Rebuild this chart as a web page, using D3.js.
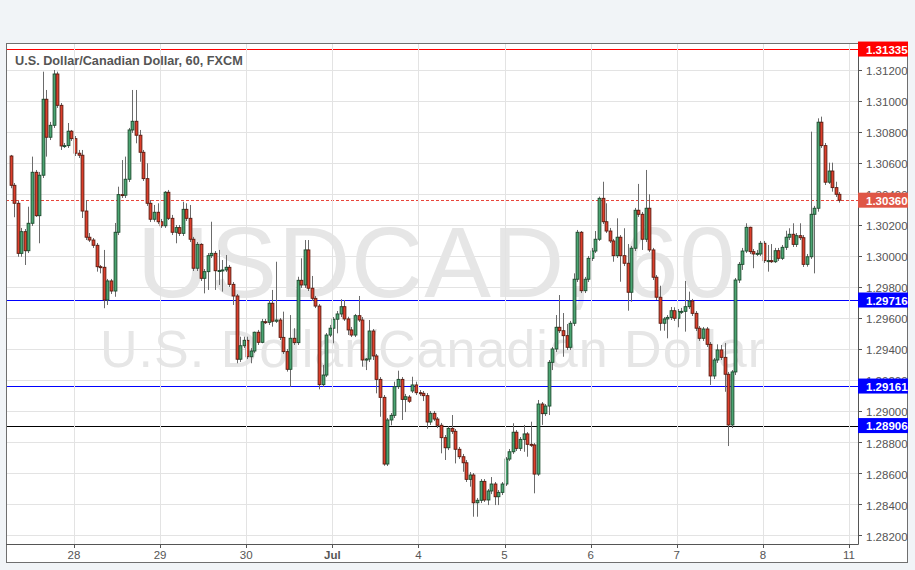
<!DOCTYPE html>
<html><head><meta charset="utf-8">
<script src="https://cdn.jsdelivr.net/npm/d3@7"></script>
<style>html,body{margin:0;padding:0;background:#f1f4f7;} svg{display:block;}</style>
</head><body>
<svg id="c" width="915" height="570"></svg>
<script>
// ---------------- DATA ----------------
const title = "U.S. Dollar/Canadian Dollar, 60, FXCM";
const watermarkSymbol = "USDCAD, 60";
const watermarkName = "U.S. Dollar/Canadian Dollar";
// day labels and the hourly-bar index at which each day starts
const dayLabels = ["28","29","30","Jul","4","5","6","7","8","11"];
const dayBars   = [17.7, 41.7, 65.7, 89.7, 113.7, 137.7, 161.7, 185.7, 209.7, 233.7];
const priceTicks = [1.282,1.284,1.286,1.288,1.290,1.292,1.294,1.296,1.298,1.300,1.302,1.304,1.306,1.308,1.310,1.312];
// horizontal levels
const levelValues = [1.31335, 1.30360, 1.29716, 1.29161, 1.28906];
const levelLine   = ["#ff0000", "#e8453a", "#0000ff", "#0000ff", "#000000"];
const levelBox    = ["#ff0000", "#df5646", "#0000ff", "#0000ff", "#0000ff"];
const levelDash   = [null, "3,2", null, null, null];

const open = [
1.30645,1.30456,1.30340,1.30017,1.30157,1.30034,1.30211,1.30540,1.30260,1.30521,
1.31011,1.30766,1.30843,1.31174,1.30972,1.30710,1.30712,1.30805,1.30757,1.30663,
1.30650,1.30290,1.30121,1.30103,1.30069,1.29931,1.29927,1.29716,1.29839,1.29774,
1.30153,1.30396,1.30392,1.30495,1.30813,1.30869,1.30779,1.30669,1.30499,1.30340,
1.30237,1.30282,1.30221,1.30195,1.30411,1.30243,1.30153,1.30183,1.30146,1.30301,
1.30243,1.30108,1.29921,1.30075,1.29856,1.29899,1.30002,1.30017,1.29905,1.29906,
1.29910,1.29927,1.29817,1.29742,1.29334,1.29421,1.29456,1.29350,1.29387,1.29508,
1.29443,1.29576,1.29572,1.29695,1.29579,1.29587,1.29475,1.29383,1.29269,1.29469,
1.29441,1.29843,1.29813,1.30039,1.29792,1.29727,1.29677,1.29170,1.29232,1.29490,
1.29534,1.29592,1.29626,1.29673,1.29594,1.29523,1.29490,1.29615,1.29587,1.29329,
1.29335,1.29516,1.29355,1.29204,1.29088,1.28658,1.28942,1.28972,1.29157,1.29204,
1.29075,1.29090,1.29129,1.29168,1.29118,1.29114,1.29099,1.28929,1.28985,1.28948,
1.28908,1.28828,1.28763,1.28888,1.28869,1.28753,1.28705,1.28666,1.28559,1.28587,
1.28408,1.28424,1.28546,1.28426,1.28484,1.28529,1.28447,1.28475,1.28529,1.28690,
1.28737,1.28863,1.28759,1.28817,1.28852,1.28785,1.28781,1.28593,1.29045,1.28983,
1.29032,1.29314,1.29400,1.29540,1.29518,1.29486,1.29411,1.29566,1.29850,1.30153,
1.29776,1.29850,1.29985,1.30032,1.30108,1.30372,1.30221,1.30161,1.30097,1.30002,
1.30121,1.30002,1.29953,1.29766,1.30050,1.30295,1.30269,1.30108,1.30308,1.30039,
1.29863,1.29734,1.29566,1.29594,1.29604,1.29647,1.29598,1.29641,1.29643,1.29673,
1.29710,1.29630,1.29534,1.29469,1.29529,1.29430,1.29226,1.29329,1.29394,1.29346,
1.29237,1.28910,1.29252,1.29845,1.29946,1.30032,1.30185,1.30028,1.30013,1.30013,
1.30082,1.29970,1.29970,1.29963,1.30034,1.29985,1.30056,1.30121,1.30140,1.30075,
1.30131,1.30118,1.29946,1.29995,1.30269,1.30308,1.30863,1.30712,1.30476,1.30548,
1.30441,1.30398];
const high = [
1.30652,1.30471,1.30355,1.30181,1.30174,1.30318,1.30641,1.30555,1.30542,1.31189,
1.31071,1.30865,1.31200,1.31189,1.30987,1.30729,1.30858,1.30813,1.30774,1.30684,
1.30684,1.30361,1.30148,1.30116,1.30084,1.29942,1.30039,1.29852,1.29852,1.30213,
1.30447,1.30619,1.30641,1.30826,1.31071,1.31071,1.30813,1.30684,1.30598,1.30361,
1.30329,1.30340,1.30239,1.30419,1.30426,1.30265,1.30200,1.30200,1.30350,1.30340,
1.30329,1.30123,1.30090,1.30082,1.29916,1.30019,1.30221,1.30032,1.30039,1.29974,
1.30006,1.29942,1.29832,1.29755,1.29479,1.29479,1.29479,1.29406,1.29512,1.29523,
1.29594,1.29594,1.29716,1.29781,1.29963,1.29600,1.29641,1.29400,1.29619,1.29534,
1.29866,1.29985,1.30103,1.30103,1.29871,1.29742,1.29690,1.29297,1.29503,1.29555,
1.29606,1.29645,1.29721,1.29716,1.29608,1.29542,1.29626,1.29742,1.29606,1.29342,
1.29587,1.29529,1.29368,1.29219,1.29103,1.28955,1.28987,1.29189,1.29260,1.29219,
1.29110,1.29103,1.29221,1.29189,1.29135,1.29129,1.29116,1.29000,1.29000,1.28961,
1.28923,1.28845,1.28903,1.28974,1.28884,1.28768,1.28723,1.28684,1.28606,1.28600,
1.28439,1.28561,1.28561,1.28497,1.28574,1.28542,1.28490,1.28542,1.28703,1.28755,
1.28921,1.28877,1.28832,1.28910,1.28864,1.28931,1.28793,1.29071,1.29058,1.29045,
1.29329,1.29413,1.29619,1.29748,1.29632,1.29561,1.29581,1.29888,1.30168,1.30161,
1.29865,1.30000,1.30052,1.30161,1.30383,1.30479,1.30340,1.30181,1.30110,1.30243,
1.30135,1.30179,1.30077,1.30065,1.30310,1.30465,1.30284,1.30555,1.30398,1.30052,
1.29877,1.29808,1.29606,1.29619,1.29671,1.29669,1.29658,1.29665,1.29839,1.29770,
1.29723,1.29645,1.29548,1.29542,1.29542,1.29445,1.29342,1.29430,1.29426,1.29439,
1.29252,1.29264,1.29858,1.29961,1.30052,1.30211,1.30189,1.30045,1.30039,1.30097,
1.30097,1.30071,1.30077,1.30052,1.30052,1.30071,1.30163,1.30179,1.30211,1.30148,
1.30211,1.30135,1.30013,1.30802,1.30323,1.30888,1.30899,1.30729,1.30602,1.30602,
1.30479,1.30413];
const low = [
1.30437,1.30250,1.29995,1.29995,1.29942,1.30019,1.30194,1.30252,1.30082,1.30503,
1.30641,1.30748,1.30826,1.30955,1.30684,1.30697,1.30697,1.30742,1.30645,1.30632,
1.30245,1.30103,1.30090,1.30052,1.29899,1.29888,1.29663,1.29684,1.29755,1.29737,
1.30135,1.30374,1.30374,1.30477,1.30794,1.30727,1.30608,1.30484,1.30323,1.30219,
1.30221,1.30206,1.30181,1.30181,1.30232,1.30135,1.30082,1.30129,1.30129,1.30226,
1.30090,1.29903,1.29903,1.29839,1.29759,1.29781,1.29987,1.29781,1.29813,1.29770,
1.29897,1.29800,1.29684,1.29308,1.29316,1.29406,1.29335,1.29308,1.29374,1.29426,
1.29437,1.29561,1.29555,1.29544,1.29568,1.29458,1.29368,1.29254,1.29157,1.29426,
1.29426,1.29794,1.29794,1.29774,1.29710,1.29664,1.29140,1.29155,1.29219,1.29477,
1.29437,1.29501,1.29606,1.29581,1.29490,1.29477,1.29477,1.29574,1.29286,1.29264,
1.29316,1.29329,1.29114,1.28963,1.28647,1.28645,1.28908,1.28955,1.29142,1.28942,
1.28993,1.29052,1.29116,1.29103,1.29097,1.29064,1.28886,1.28910,1.28935,1.28890,
1.28727,1.28684,1.28748,1.28852,1.28662,1.28690,1.28608,1.28542,1.28512,1.28318,
1.28318,1.28406,1.28413,1.28393,1.28464,1.28393,1.28393,1.28458,1.28516,1.28677,
1.28723,1.28742,1.28742,1.28737,1.28705,1.28768,1.28469,1.28581,1.28910,1.28968,
1.28974,1.29264,1.29381,1.29503,1.29350,1.29394,1.29394,1.29548,1.29832,1.29761,
1.29761,1.29832,1.29968,1.30019,1.30097,1.30206,1.30148,1.30084,1.29963,1.29987,
1.29834,1.29935,1.29647,1.29705,1.30032,1.30252,1.30039,1.30090,1.30026,1.29845,
1.29716,1.29518,1.29518,1.29469,1.29587,1.29581,1.29540,1.29626,1.29512,1.29658,
1.29613,1.29516,1.29452,1.29452,1.29413,1.29168,1.29206,1.29310,1.29329,1.29124,
1.28774,1.28890,1.29232,1.29826,1.29910,1.30019,1.30013,1.29921,1.30000,1.30000,
1.29955,1.29899,1.29955,1.29955,1.29968,1.29974,1.30039,1.30103,1.30058,1.30058,
1.30103,1.29929,1.29931,1.29981,1.29888,1.30286,1.30697,1.30458,1.30465,1.30415,
1.30381,1.30344];
const close = [
1.30456,1.30340,1.30017,1.30157,1.30034,1.30211,1.30540,1.30260,1.30521,1.31011,
1.30766,1.30843,1.31174,1.30972,1.30710,1.30712,1.30805,1.30757,1.30663,1.30650,
1.30290,1.30121,1.30103,1.30069,1.29931,1.29927,1.29716,1.29839,1.29774,1.30153,
1.30396,1.30392,1.30495,1.30813,1.30869,1.30779,1.30669,1.30499,1.30340,1.30237,
1.30282,1.30221,1.30195,1.30411,1.30243,1.30153,1.30183,1.30146,1.30301,1.30243,
1.30108,1.29921,1.30075,1.29856,1.29899,1.30002,1.30017,1.29905,1.29906,1.29910,
1.29927,1.29817,1.29742,1.29334,1.29421,1.29456,1.29350,1.29387,1.29508,1.29443,
1.29576,1.29572,1.29695,1.29579,1.29587,1.29475,1.29383,1.29269,1.29469,1.29441,
1.29843,1.29813,1.30039,1.29792,1.29727,1.29677,1.29170,1.29232,1.29490,1.29534,
1.29592,1.29626,1.29673,1.29594,1.29523,1.29490,1.29615,1.29587,1.29329,1.29335,
1.29516,1.29355,1.29204,1.29088,1.28658,1.28942,1.28972,1.29157,1.29204,1.29075,
1.29092,1.29063,1.29168,1.29118,1.29114,1.29099,1.28929,1.28985,1.28948,1.28908,
1.28828,1.28763,1.28888,1.28869,1.28753,1.28705,1.28666,1.28559,1.28587,1.28408,
1.28424,1.28546,1.28426,1.28484,1.28529,1.28447,1.28475,1.28529,1.28690,1.28737,
1.28863,1.28759,1.28817,1.28852,1.28785,1.28781,1.28593,1.29045,1.28983,1.29032,
1.29314,1.29400,1.29540,1.29518,1.29486,1.29411,1.29566,1.29850,1.30153,1.29776,
1.29850,1.29985,1.30032,1.30108,1.30372,1.30221,1.30161,1.30097,1.30002,1.30121,
1.30002,1.29953,1.29766,1.30050,1.30295,1.30269,1.30108,1.30308,1.30039,1.29863,
1.29734,1.29566,1.29594,1.29604,1.29647,1.29598,1.29641,1.29643,1.29673,1.29710,
1.29630,1.29534,1.29469,1.29529,1.29430,1.29226,1.29329,1.29394,1.29346,1.29237,
1.28910,1.29252,1.29845,1.29946,1.30032,1.30185,1.30028,1.30013,1.30017,1.30082,
1.29970,1.29970,1.29963,1.30034,1.29985,1.30056,1.30121,1.30140,1.30075,1.30131,
1.30118,1.29946,1.29995,1.30269,1.30308,1.30863,1.30712,1.30476,1.30548,1.30441,
1.30398,1.30360];

// ---------------- LAYOUT ----------------
const L = 6, T = 43, R = 908, B = 563, PR = 858, PB = 544;
const svg = d3.select("#c");
const font = "'Liberation Sans', Arial, sans-serif";
const n = close.length;
const bars = d3.range(n).map(i => ({i, o: open[i], h: high[i], l: low[i], c: close[i]}));

const x = d3.scaleLinear().domain([0, 231]).range([10.5, 10.5 + 231 * 3.588]);
const y = d3.scaleLinear().domain([1.28142, 1.31374]).range([PB, T]);
const cr = v => Math.round(v) + 0.5;

// frame
svg.append("rect").attr("x", L + 0.5).attr("y", T + 0.5).attr("width", R - L - 1).attr("height", B - T - 1)
  .attr("fill", "#ffffff").attr("stroke", "#6f6f6f");

const clip = svg.append("defs").append("clipPath").attr("id", "pc");
clip.append("rect").attr("x", L + 1).attr("y", T + 1).attr("width", PR - L - 1).attr("height", PB - T - 1);
const plot = svg.append("g").attr("clip-path", "url(#pc)");

// grid
plot.selectAll("line.hg").data(priceTicks).join("line").attr("class", "hg")
  .attr("x1", L).attr("x2", PR).attr("y1", d => cr(y(d))).attr("y2", d => cr(y(d)))
  .attr("stroke", "#e3e3e3").attr("stroke-width", 1);
svg.selectAll("line.vg").data(dayBars).join("line").attr("class", "vg")
  .attr("x1", d => cr(x(d))).attr("x2", d => cr(x(d))).attr("y1", T + 1).attr("y2", PB)
  .attr("stroke", "#e3e3e3").attr("stroke-width", 1);

// watermarks
plot.append("text").text(watermarkSymbol).attr("x", 137).attr("y", 297)
  .attr("font-family", font).attr("font-size", 100).attr("fill", "#e6e6e6")
  .attr("textLength", 598).attr("lengthAdjust", "spacing");
plot.append("text").text(watermarkName).attr("x", 100).attr("y", 367)
  .attr("font-family", font).attr("font-size", 52).attr("fill", "#e6e6e6")
  .attr("textLength", 665).attr("lengthAdjust", "spacing");

// level lines
levelValues.forEach((v, k) => {
  const ln = plot.append("line").attr("x1", L).attr("x2", PR)
    .attr("y1", cr(y(v))).attr("y2", cr(y(v))).attr("stroke", levelLine[k]).attr("stroke-width", 1);
  if (levelDash[k]) ln.attr("stroke-dasharray", levelDash[k]);
});

// candles
const up = d => d.c >= d.o;
const cg = plot.append("g");
cg.selectAll("line.w").data(bars).join("line").attr("class", "w")
  .attr("x1", d => cr(x(d.i))).attr("x2", d => cr(x(d.i)))
  .attr("y1", d => y(d.h)).attr("y2", d => y(d.l))
  .attr("stroke", "#6b6b6b").attr("stroke-width", 1);
const bw = 2.8;
cg.selectAll("rect.b").data(bars).join("rect").attr("class", "b")
  .attr("x", d => cr(x(d.i)) - bw / 2)
  .attr("y", d => y(Math.max(d.o, d.c)))
  .attr("width", bw)
  .attr("height", d => Math.max(1, y(Math.min(d.o, d.c)) - y(Math.max(d.o, d.c))))
  .attr("fill", d => up(d) ? "#4aa572" : "#dd3e2b")
  .attr("stroke", d => up(d) ? "#1c4a2d" : "#5a1a0f").attr("stroke-width", 0.9);

// axes lines
svg.append("line").attr("x1", cr(PR)).attr("x2", cr(PR)).attr("y1", T).attr("y2", PB + 0.5)
  .attr("stroke", "#555").attr("stroke-width", 1);
svg.append("line").attr("x1", L).attr("x2", PR + 0.5).attr("y1", cr(PB)).attr("y2", cr(PB))
  .attr("stroke", "#555").attr("stroke-width", 1);

// right axis ticks + labels
const ra = svg.append("g");
ra.selectAll("line").data(priceTicks).join("line")
  .attr("x1", PR).attr("x2", PR + 4).attr("y1", d => cr(y(d))).attr("y2", d => cr(y(d)))
  .attr("stroke", "#555");
ra.selectAll("text").data(priceTicks).join("text")
  .attr("x", 866).attr("y", d => y(d) + 5.5).text(d => d.toFixed(5))
  .attr("font-family", font).attr("font-size", 11.5).attr("fill", "#555");

// bottom axis
const ba = svg.append("g");
ba.selectAll("line").data(dayBars).join("line")
  .attr("x1", d => cr(x(d))).attr("x2", d => cr(x(d))).attr("y1", PB).attr("y2", PB + 4)
  .attr("stroke", "#555");
ba.selectAll("text").data(dayLabels).join("text")
  .attr("x", (d, k) => x(dayBars[k])).attr("y", 559).attr("text-anchor", "middle").text(d => d)
  .attr("font-family", font).attr("font-size", 11.5).attr("fill", "#555")
  .attr("font-weight", d => d === "Jul" ? "bold" : "normal");

// level boxes
levelValues.forEach((v, k) => {
  svg.append("rect").attr("x", PR).attr("y", y(v) - 7.5).attr("width", 50).attr("height", 15)
    .attr("fill", levelBox[k]);
  svg.append("text").attr("x", 866).attr("y", y(v) + 4.5).text(v.toFixed(5))
    .attr("font-family", font).attr("font-size", 11.5).attr("font-weight", "bold").attr("fill", "#fff");
});

// title
svg.append("text").attr("x", 15).attr("y", 65).text(title)
  .attr("font-family", font).attr("font-size", 12.7).attr("font-weight", "bold").attr("fill", "#555");
</script>
</body></html>
